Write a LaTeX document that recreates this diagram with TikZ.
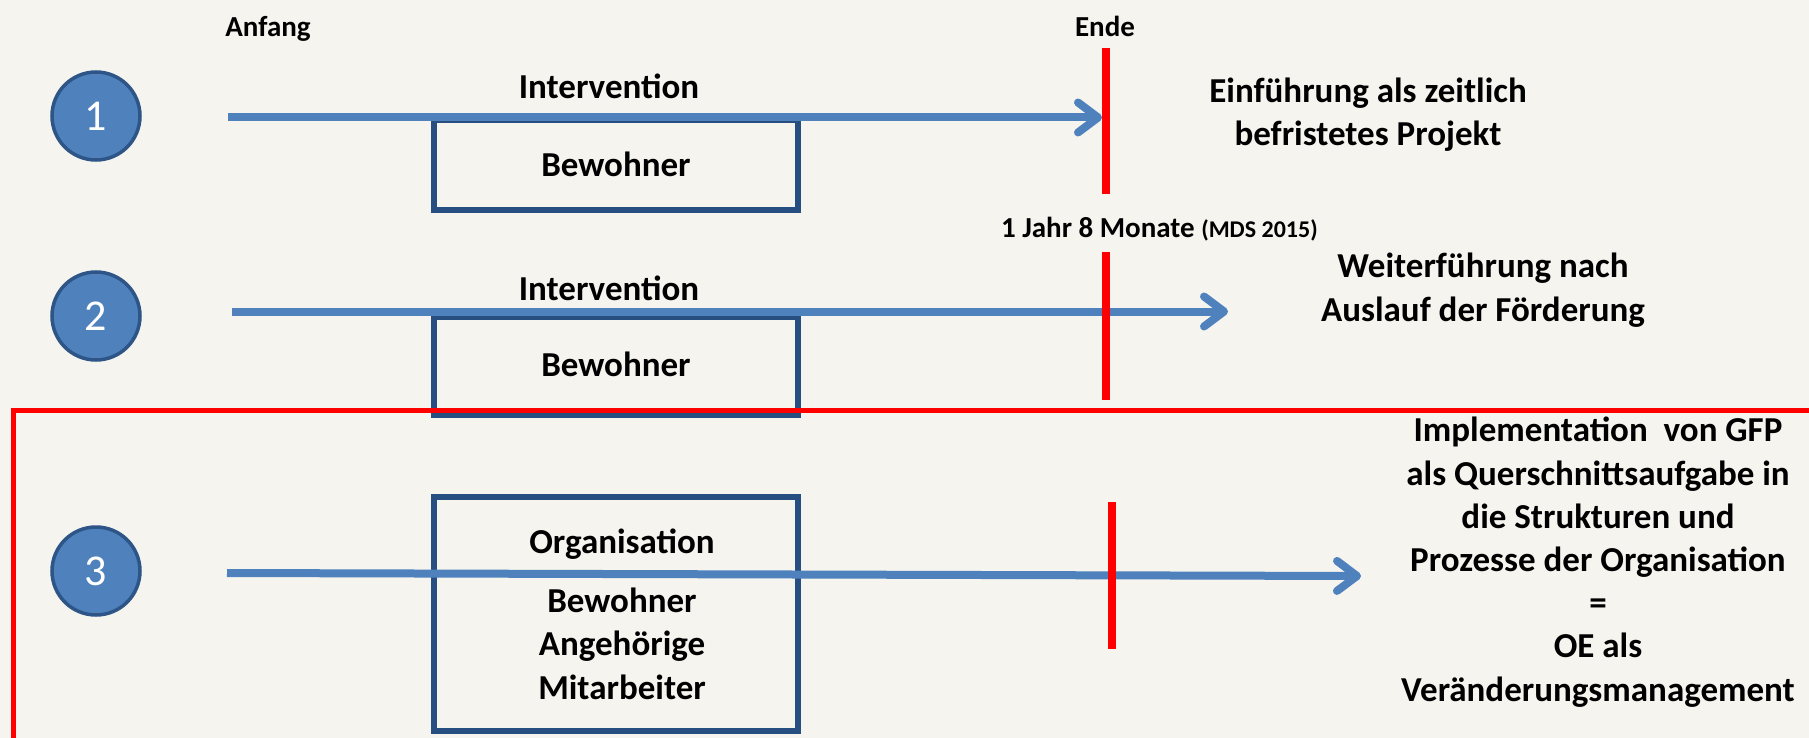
\documentclass[tikz,border=0pt]{standalone}
\usepackage{fontspec}
\setmainfont{Carlito}
\usetikzlibrary{arrows.meta}
\definecolor{bgc}{RGB}{245,244,239}
\definecolor{blu}{RGB}{79,129,189}
\definecolor{circline}{RGB}{45,85,135}
\definecolor{boxblue}{RGB}{38,78,128}
\definecolor{redc}{RGB}{255,0,0}
\begin{document}
\begin{tikzpicture}[x=1pt,y=-1pt,
  txt/.style={font=\fontsize{35}{43.2}\selectfont\bfseries, inner sep=0pt, outer sep=0pt, align=center, anchor=base},
  small/.style={font=\fontsize{29}{34}\selectfont\bfseries, inner sep=0pt, outer sep=0pt, anchor=base},
  num/.style={circle, draw=circline, line width=3.5pt, fill=blu, text=white, minimum size=88pt, inner sep=0pt, font=\fontsize{44}{52}\selectfont},
  boxframe/.style={rectangle, draw=boxblue, line width=6pt, inner sep=0pt},
  flow/.style={draw=blu, line width=8pt, -{Straight Barb[length=20pt,width=30pt,round]}},
  redline/.style={draw=redc, line width=8pt},
  redframe/.style={draw=redc, line width=5pt},
]
\useasboundingbox (0,0) rectangle (1809,738);
\fill[bgc] (0,0) rectangle (1809,738);

% boxes
\node[boxframe, minimum width=364pt, minimum height=90pt] (box1) at (616,165) {};
\node[boxframe, minimum width=364pt, minimum height=98pt] (box2) at (616,366) {};
\node[boxframe, minimum width=364pt, minimum height=234pt] (box3) at (616,614) {};

% circles
\node[num] (c1) at (96,116) {1};
\node[num] (c2) at (96,316) {2};
\node[num] (c3) at (96,571) {3};

% arrows
\coordinate (a1s) at (228,117.5);
\coordinate (a1e) at (1102,117.5);
\coordinate (a2s) at (232,311.5);
\coordinate (a2e) at (1228,311.5);
\coordinate (a3s) at (227,573);
\coordinate (a3e) at (1361,576);
\draw[flow] (a1s) -- (a1e);
\draw[flow] (a2s) -- (a2e);
\draw[flow] (a3s) -- (a3e);

% red markers
\coordinate (r1t) at (1106,48);
\coordinate (r1b) at (1106,194);
\coordinate (r2t) at (1106,252);
\coordinate (r2b) at (1106,400);
\coordinate (r3t) at (1112,502);
\coordinate (r3b) at (1112,649);
\draw[redline] (r1t) -- (r1b);
\draw[redline] (r2t) -- (r2b);
\draw[redline] (r3t) -- (r3b);

% red frame
\coordinate (fr) at (1809,410.5);
\coordinate (fb) at (13.5,738);
\draw[redframe] (fr) -| (fb);

% texts (multi-line nodes: base = baseline of last line)
\node[small] (anf) at (268,37) {Anfang};
\node[small] (ende) at (1105,37) {Ende};
\node[txt] (iv1) at (609,99) {Intervention};
\node[txt] (bw1) at (616,177) {Bewohner};
\node[txt] (ein) at (1368,146) {Einführung als zeitlich\\befristetes Projekt};
\node[txt] (iv2) at (609,300) {Intervention};
\node[txt] (bw2) at (616,376) {Bewohner};
\node[small, anchor=base west] (jahr) at (1001,237) {1 Jahr 8 Monate {\fontsize{24}{28}\selectfont(MDS 2015)}};
\node[txt] (wf) at (1483,321) {Weiterführung nach\\Auslauf der Förderung};
\node[txt] (org) at (622,553) {Organisation};
\node[txt] (ppl) at (622,699) {Bewohner\\Angehörige\\Mitarbeiter};
\node[txt] (impl) at (1598,701) {Implementation~~von GFP\\als Querschnittsaufgabe in\\die Strukturen und\\Prozesse der Organisation\\=\\OE als\\Veränderungsmanagement};
\end{tikzpicture}
\end{document}
